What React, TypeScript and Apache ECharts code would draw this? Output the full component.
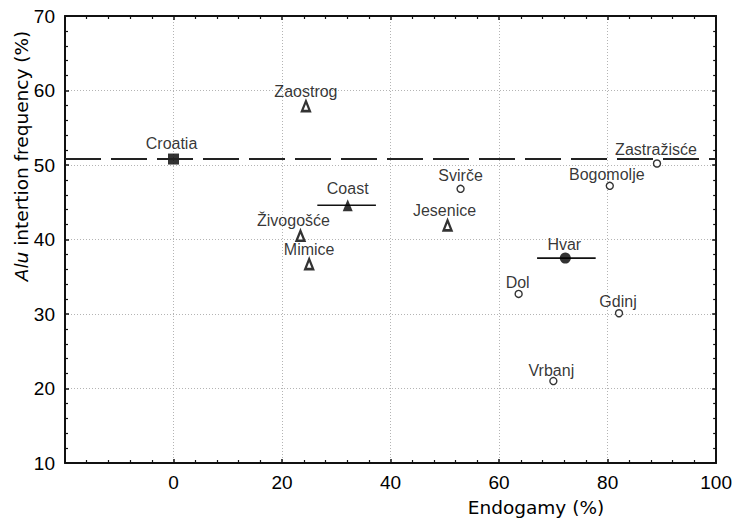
import React, { useEffect, useRef } from 'react';
import * as echarts from 'echarts';

// ---- data ----
const croatiaNames = ['Croatia'];
const croatiaEndogamy = [0];
const croatiaAlu = [50.8];

const regionNames = ['Coast', 'Hvar'];
const regionEndogamy = [32.1, 72.2];
const regionAlu = [44.6, 37.5];
const regionEndogamyLow = [26.5, 67.0];
const regionEndogamyHigh = [37.3, 77.8];

const coastVillageNames = ['Zaostrog', 'Živogošće', 'Mimice', 'Jesenice'];
const coastVillageEndogamy = [24.4, 23.4, 25.0, 50.5];
const coastVillageAlu = [57.9, 40.5, 36.7, 41.9];

const hvarVillageNames = ['Svirče', 'Zastražisće', 'Bogomolje', 'Dol', 'Gdinj', 'Vrbanj'];
const hvarVillageEndogamy = [52.9, 89.1, 80.4, 63.6, 82.1, 70.0];
const hvarVillageAlu = [46.8, 50.2, 47.2, 32.7, 30.1, 21.0];

const croatiaReferenceLine = 50.8;

const xRange = [-20, 100];
const xStep = 20;
const yRange = [10, 70];
const yStep = 10;

const xAxisTitle = 'Endogamy (%)';
const yAxisTitleItalic = 'Alu';
const yAxisTitleRest = ' intertion frequency (%)';

// ---- layout (label nudges, px) ----
const labelShift: Record<string, [number, number]> = {
  Croatia: [-2, -16],
  Zaostrog: [0, -15],
  Coast: [0, -17],
  Hvar: [-1, -14],
  'Živogošće': [-7, -15],
  Mimice: [0, -15],
  Jesenice: [-3, -15],
  'Svirče': [0, -13],
  'Zastražisće': [-1, -14],
  Bogomolje: [-3, -11],
  Dol: [-1, -11],
  Gdinj: [-1, -12],
  Vrbanj: [-2, -11],
};

const INK = '#000';
const LABEL_FONT = 'Liberation Sans, Arial, sans-serif';
const NAME_FONT = 'DejaVu Sans, Liberation Sans, sans-serif';

function points(names: string[], xs: number[], ys: number[]) {
  return names.map((n, i) => ({
    name: n,
    value: [xs[i], ys[i]],
    label: { offset: labelShift[n] || [0, -13] },
  }));
}

const pointLabel = {
  show: true,
  position: 'inside',
  formatter: '{b}',
  color: INK,
  fontSize: 16,
  fontFamily: LABEL_FONT,
};

export default function App() {
  const ref = useRef<HTMLDivElement>(null);

  useEffect(() => {
    if (!ref.current) return;
    const chart = echarts.init(ref.current, null, { renderer: 'svg' });

    const axisLine = { show: true, onZero: false, lineStyle: { color: '#111', width: 2 } };
    const tick = { show: true, inside: true, length: 4, lineStyle: { color: '#111', width: 1.5 } };
    const minor = { show: true, splitNumber: 5, length: 3, lineStyle: { color: '#111', width: 1.2 } };
    const grid = { show: true, lineStyle: { color: '#b4b4b4', width: 1, type: [1, 2] } };
    const tickLabel = { fontSize: 19, color: INK, fontFamily: LABEL_FONT };

    const errorData = regionNames.map((n, i) => [
      regionEndogamy[i],
      regionAlu[i],
      regionEndogamyLow[i],
      regionEndogamyHigh[i],
    ]);

    chart.setOption({
      animation: false,
      backgroundColor: '#fff',
      grid: { left: 65, right: 15, top: 16, bottom: 55 },
      xAxis: [
        {
          type: 'value',
          position: 'bottom',
          min: xRange[0],
          max: xRange[1],
          interval: xStep,
          axisLine,
          axisTick: tick,
          minorTick: minor,
          splitLine: grid,
          axisLabel: {
            ...tickLabel,
            margin: 10,
            formatter: (v: number) => (v < 0 ? '' : String(v)),
          },
        },
        {
          type: 'value',
          position: 'top',
          min: xRange[0],
          max: xRange[1],
          interval: xStep,
          axisLine,
          axisTick: tick,
          minorTick: minor,
          splitLine: { show: false },
          axisLabel: { show: false },
        },
      ],
      yAxis: [
        {
          type: 'value',
          position: 'left',
          min: yRange[0],
          max: yRange[1],
          interval: yStep,
          axisLine,
          axisTick: tick,
          minorTick: minor,
          splitLine: grid,
          axisLabel: { ...tickLabel, margin: 10 },
        },
        {
          type: 'value',
          position: 'right',
          min: yRange[0],
          max: yRange[1],
          interval: yStep,
          axisLine,
          axisTick: tick,
          minorTick: minor,
          splitLine: { show: false },
          axisLabel: { show: false },
        },
      ],
      graphic: [
        {
          type: 'text',
          x: 536,
          y: 507,
          style: {
            text: xAxisTitle,
            fontSize: 18.5,
            fontFamily: NAME_FONT,
            fill: INK,
            align: 'center',
            verticalAlign: 'middle',
          },
        },
        {
          type: 'text',
          x: 21,
          y: 156,
          rotation: Math.PI / 2,
          style: {
            text: '{i|' + yAxisTitleItalic + '}{n|' + yAxisTitleRest + '}',
            fontSize: 18.5,
            fontFamily: NAME_FONT,
            fill: INK,
            align: 'center',
            verticalAlign: 'middle',
            rich: {
              i: { fontStyle: 'italic', fontSize: 18.5, fontFamily: NAME_FONT, fill: INK },
              n: { fontSize: 18.5, fontFamily: NAME_FONT, fill: INK },
            },
          },
        },
      ],
      series: [
        {
          type: 'custom',
          name: 'range',
          z: 1,
          data: errorData,
          renderItem: (params: any, api: any) => {
            const y = api.value(1);
            const p1 = api.coord([api.value(2), y]);
            const p2 = api.coord([api.value(3), y]);
            return {
              type: 'line',
              shape: { x1: p1[0], y1: p1[1], x2: p2[0], y2: p2[1] },
              style: { stroke: '#111', lineWidth: 1.6 },
            };
          },
        },
        {
          type: 'scatter',
          name: 'Croatia',
          z: 3,
          symbol: 'rect',
          symbolSize: 11,
          itemStyle: { color: INK },
          label: pointLabel,
          data: points(croatiaNames, croatiaEndogamy, croatiaAlu),
          markLine: {
            silent: true,
            symbol: 'none',
            label: { show: false },
            lineStyle: { color: '#222', width: 2, type: [36, 10] },
            data: [{ yAxis: croatiaReferenceLine }],
          },
        },
        {
          type: 'scatter',
          name: 'Coast',
          z: 3,
          symbol: 'triangle',
          symbolSize: [10, 12],
          itemStyle: { color: INK },
          label: pointLabel,
          data: points([regionNames[0]], [regionEndogamy[0]], [regionAlu[0]]),
        },
        {
          type: 'scatter',
          name: 'Hvar',
          z: 3,
          symbol: 'circle',
          symbolSize: 11,
          itemStyle: { color: INK },
          label: pointLabel,
          data: points([regionNames[1]], [regionEndogamy[1]], [regionAlu[1]]),
        },
        {
          type: 'scatter',
          name: 'Coastal villages',
          z: 3,
          symbol: 'triangle',
          symbolSize: [8, 10],
          itemStyle: { color: '#fff', borderColor: INK, borderWidth: 2.4 },
          label: pointLabel,
          data: points(coastVillageNames, coastVillageEndogamy, coastVillageAlu),
        },
        {
          type: 'scatter',
          name: 'Hvar villages',
          z: 3,
          symbol: 'circle',
          symbolSize: 7,
          itemStyle: { color: '#fff', borderColor: INK, borderWidth: 1.4 },
          label: pointLabel,
          data: points(hvarVillageNames, hvarVillageEndogamy, hvarVillageAlu),
        },
      ],
    });

    return () => chart.dispose();
  }, []);

  return (
    <div
      ref={ref}
      style={{ position: 'absolute', left: 0, top: 0, width: 735, height: 518, background: '#fff' }}
    />
  );
}
